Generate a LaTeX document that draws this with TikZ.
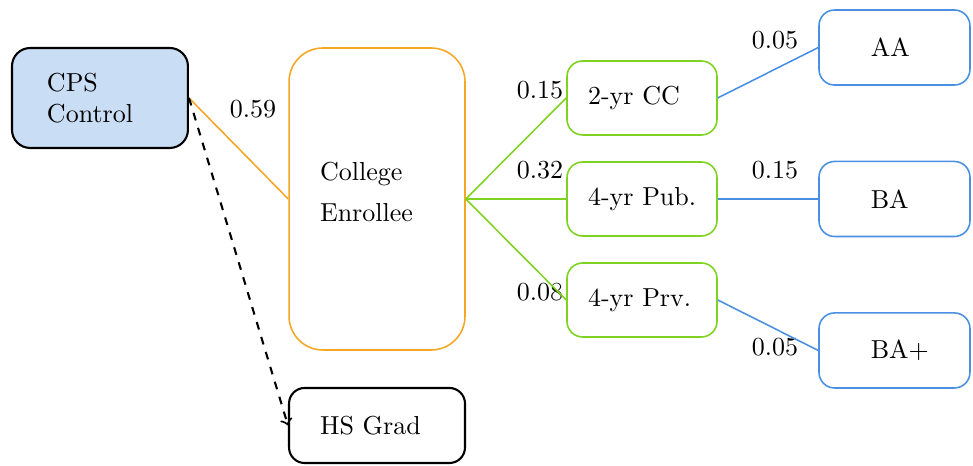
\documentclass[tikz,border=0pt]{standalone}
\usepackage{tikz, xcolor}
\usetikzlibrary{positioning, arrows}

\definecolor{ctrlfill}{RGB}{201,221,245}
\definecolor{enrorange}{RGB}{245,166,35}
\definecolor{sectgreen}{RGB}{126,211,33}
\definecolor{degblue}{RGB}{74,144,226}

\begin{document}
\begin{tikzpicture}[
  ctrlbox/.style={rectangle, draw=black, thick, fill=ctrlfill, rounded corners=7pt,
    minimum width=2.378cm, minimum height=1.351cm, text width=1.432cm,
    inner xsep=0.473cm, align=left},
  enrbox/.style={rectangle, draw=enrorange, semithick, rounded corners=13pt,
    minimum width=2.378cm, minimum height=4.081cm, text width=1.54cm,
    inner xsep=0.419cm, align=left, text depth=0.76cm},
  gradbox/.style={rectangle, draw=black, thick, rounded corners=6pt,
    minimum width=2.378cm, minimum height=1.014cm, text width=1.54cm,
    inner xsep=0.419cm, align=left},
  sectbox/.style={rectangle, draw=sectgreen, semithick, rounded corners=6pt,
    minimum width=2.027cm, minimum height=1cm, text width=1.459cm,
    inner xsep=0.284cm, align=left},
  degbox/.style={rectangle, draw=degblue, semithick, rounded corners=6pt,
    minimum width=2.04cm, minimum height=1.014cm, text width=0.64cm,
    inner xsep=0.70cm, align=left},
  share/.style={inner sep=1pt},
]

\useasboundingbox (0, 0) rectangle (13.149, -6.284);

\node[ctrlbox]
(cps) at (1.351, -1.324)
{CPS\\Control};

\node[enrbox]
(enrollee) at (5.095, -2.689)
{College\\[4pt]Enrollee};

\node[gradbox]
(hsgrad) at (5.095, -5.75)
{\mbox{HS Grad}};

\node[sectbox]
(cc) at (8.676, -1.324)
{\mbox{2-yr CC}};

\node[sectbox]
(pub) at (8.676, -2.689)
{\mbox{4-yr Pub.}};

\node[sectbox]
(prv) at (8.676, -4.054)
{\mbox{4-yr Prv.}};

\node[degbox]
(aa) at (12.088, -0.642)
{AA};

\node[degbox]
(ba) at (12.088, -2.689)
{BA};

\node[degbox]
(baplus) at (12.088, -4.736)
{\mbox{BA+}};

% shares
\node[share] (s-enr) at (3.419, -1.473) {0.59};
\node[share] (s-cc) at (7.297, -1.216) {0.15};
\node[share] (s-pub) at (7.297, -2.297) {0.32};
\node[share] (s-prv) at (7.297, -3.946) {0.08};
\node[share] (s-aa) at (10.473, -0.541) {0.05};
\node[share] (s-ba) at (10.473, -2.297) {0.15};
\node[share] (s-baplus) at (10.473, -4.689) {0.05};

\draw[semithick, color=enrorange] (cps.east) -- (enrollee.west);
\draw[->, thick, dashed, color=black] (cps.east) -- (hsgrad.west);
\draw[semithick, color=sectgreen] (enrollee.east) -- (cc.west);
\draw[semithick, color=sectgreen] (enrollee.east) -- (pub.west);
\draw[semithick, color=sectgreen] (enrollee.east) -- (prv.west);
\draw[semithick, color=degblue] (cc.east) -- (aa.west);
\draw[semithick, color=degblue] (pub.east) -- (ba.west);
\draw[semithick, color=degblue] (prv.east) -- (baplus.west);

\end{tikzpicture}
\end{document}
